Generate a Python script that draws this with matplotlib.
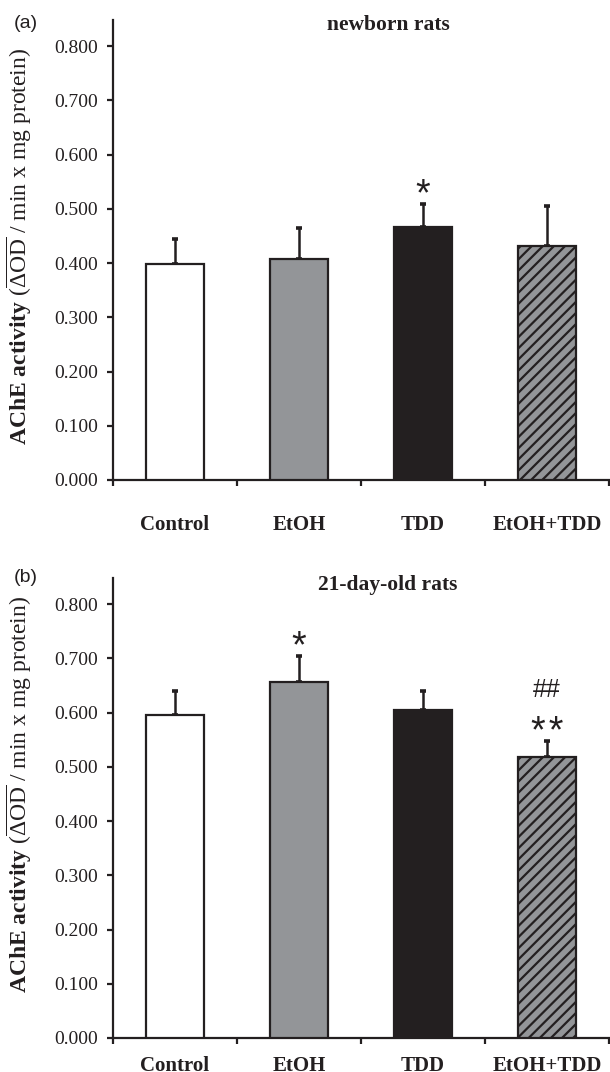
import matplotlib
matplotlib.use("Agg")
import matplotlib.pyplot as plt
from matplotlib.transforms import offset_copy
import numpy as np

# ---------------- data ----------------
categories = ["Control", "EtOH", "TDD", "EtOH+TDD"]
yticks = [0.0, 0.1, 0.2, 0.3, 0.4, 0.5, 0.6, 0.7, 0.8]

newborn_mean = [0.398, 0.407, 0.467, 0.432]
newborn_sd = [0.047, 0.058, 0.042, 0.074]
newborn_sig = ["", "", "*", ""]
newborn_hash = ["", "", "", ""]

day21_mean = [0.596, 0.656, 0.604, 0.518]
day21_sd = [0.043, 0.049, 0.035, 0.029]
day21_sig = ["", "*", "", "*\u200a*"]
day21_hash = ["", "", "", "##"]

panels = [
    dict(tag="(a)", title="newborn rats", mean=newborn_mean, sd=newborn_sd,
         sig=newborn_sig, hsh=newborn_hash),
    dict(tag="(b)", title="21-day-old rats", mean=day21_mean, sd=day21_sd,
         sig=day21_sig, hsh=day21_hash),
]

# ---------------- style ----------------
DARK = "#231f20"
GRAY = "#939598"
face = ["white", GRAY, DARK, GRAY]
hatches = [None, None, None, "///"]

plt.rcParams["font.family"] = ["Liberation Serif", "DejaVu Serif"]
plt.rcParams["mathtext.fontset"] = "custom"
plt.rcParams["mathtext.rm"] = "Liberation Serif"
plt.rcParams["mathtext.it"] = "Liberation Serif:italic"
plt.rcParams["mathtext.bf"] = "Liberation Serif:bold"
plt.rcParams["hatch.linewidth"] = 1.6

W, H = 610, 1072
fig = plt.figure(figsize=(W / 100, H / 100), dpi=100)

layout = [
    dict(bottom=480, xpad=25, title_y=25, tag_y=24, ylab_y=246),
    dict(bottom=1038, xpad=13, title_y=585, tag_y=577, ylab_y=794),
]
ax_left, ax_right = 113, 609
ax_h = 460

ylabel = r"$\mathbf{AChE\ activity}$ ($\overline{\Delta\mathrm{OD}}$ / min x mg protein)"

x = np.arange(len(categories))

for p, L in zip(panels, layout):
    ax = fig.add_axes([ax_left / W, 1 - L["bottom"] / H,
                       (ax_right - ax_left) / W, ax_h / H])
    bars = ax.bar(x, p["mean"], width=0.475, color=face, edgecolor=DARK,
                  linewidth=1.6, zorder=3)
    for b, h in zip(bars, hatches):
        if h:
            b.set_hatch(h)
    ax.errorbar(x, p["mean"], yerr=[np.zeros(len(x)), p["sd"]], fmt="none",
                ecolor=DARK, elinewidth=1.8, capsize=2.2, capthick=2.6,
                zorder=2)

    ax.set_xlim(-0.5, 3.5)
    ax.set_ylim(0, 0.848)
    for s in ["top", "right"]:
        ax.spines[s].set_visible(False)
    for s in ["left", "bottom"]:
        ax.spines[s].set_linewidth(1.6)
        ax.spines[s].set_color(DARK)
        ax.spines[s].set_capstyle("projecting")

    ax.set_yticks(yticks)
    ax.set_yticklabels([f"{v:.3f}" for v in yticks], fontsize=14, color=DARK)
    ax.tick_params(axis="y", direction="out", length=4, width=1.6,
                   color=DARK, pad=7)

    ax.set_xticks(np.arange(-0.5, 4.0, 1.0))
    ax.set_xticklabels([])
    ax.tick_params(axis="x", which="major", direction="out", length=4.5,
                   width=1.6, color=DARK)
    ax.set_xticks(x, minor=True)
    ax.set_xticklabels(categories, minor=True, fontsize=15, fontweight="bold",
                       color=DARK)
    ax.tick_params(axis="x", which="minor", length=0, pad=L["xpad"])

    ax.set_ylabel(ylabel, fontsize=17, color=DARK)
    ax.yaxis.set_label_coords((34 - ax_left) / (ax_right - ax_left),
                              (L["bottom"] - L["ylab_y"]) / ax_h)

    # significance marks
    for i in range(len(x)):
        top = p["mean"][i] + p["sd"][i]
        if p["sig"][i]:
            fs = 27
            tr = offset_copy(ax.transData, fig=fig, x=0, y=-0.57 * fs,
                             units="points")
            ax.text(x[i], top + 0.037, p["sig"][i], transform=tr, ha="center",
                    va="baseline", fontsize=fs, color=DARK,
                    family=["Liberation Sans", "DejaVu Sans"])
        if p["hsh"][i]:
            fs = 18
            tr = offset_copy(ax.transData, fig=fig, x=0, y=-0.35 * fs,
                             units="points")
            ax.text(x[i], top + 0.097, p["hsh"][i], transform=tr, ha="center",
                    va="baseline", fontsize=fs, color=DARK,
                    family=["Liberation Sans", "DejaVu Sans"])

    fig.text(388 / W, 1 - L["title_y"] / H, p["title"], ha="center",
             va="center", fontsize=15.5, fontweight="bold", color=DARK)
    fig.text(26 / W, 1 - L["tag_y"] / H, p["tag"], ha="center", va="center",
             fontsize=14, color=DARK, family=["Liberation Sans", "DejaVu Sans"])

fig.savefig("out.png", dpi=100)
